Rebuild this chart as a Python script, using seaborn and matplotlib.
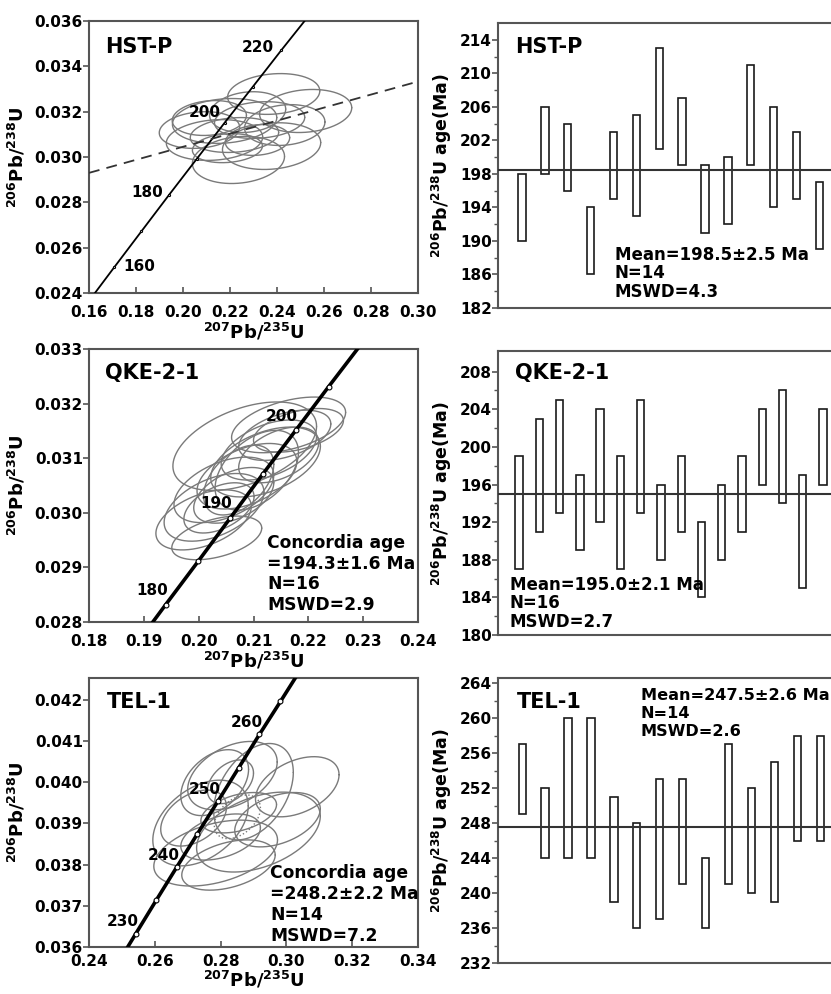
import numpy as np
import matplotlib
matplotlib.use("Agg")
import matplotlib.pyplot as plt
import seaborn as sns

# ---- concordia points (age in Ma, 207Pb/235U, 206Pb/238U) ----
hst_age = [150, 160, 170, 180, 190, 200, 210, 220, 230]
hst_c75 = [0.1592, 0.1707, 0.1823, 0.1940, 0.2058, 0.2177, 0.2298, 0.2419, 0.2542]
hst_c68 = [0.02354, 0.02513, 0.02672, 0.02832, 0.02991, 0.03151, 0.03311, 0.03472, 0.03632]
hst_lab = [160, 180, 200, 220]

qke_age = [175, 180, 185, 190, 195, 200, 205, 210]
qke_c75 = [0.1881, 0.1940, 0.1999, 0.2058, 0.2117, 0.2177, 0.2237, 0.2298]
qke_c68 = [0.02752, 0.02832, 0.02911, 0.02991, 0.03071, 0.03151, 0.03231, 0.03311]
qke_lab = [180, 190, 200]

tel_age = [225, 230, 235, 240, 245, 250, 255, 260, 265, 270]
tel_c75 = [0.2481, 0.2542, 0.2604, 0.2666, 0.2729, 0.2792, 0.2855, 0.2918, 0.2982, 0.3046]
tel_c68 = [0.03552, 0.03632, 0.03713, 0.03793, 0.03874, 0.03954, 0.04035, 0.04116, 0.04196, 0.04277]
tel_lab = [230, 240, 250, 260]

# discordia (dashed) line for HST-P
hst_dis_x = [0.16, 0.30]
hst_dis_y = [0.0293, 0.03333]

# ---- error ellipses: centre, half-widths, correlation ----
hst_x = [0.2386, 0.2522, 0.2236, 0.2377, 0.2134, 0.2177, 0.2326, 0.2275, 0.2070, 0.2219, 0.2433, 0.2112, 0.2317, 0.2189]
hst_y = [0.03278, 0.03203, 0.02987, 0.03048, 0.03075, 0.03159, 0.03163, 0.03198, 0.03119, 0.03097, 0.03141, 0.03172, 0.03075, 0.03039]
hst_sx = [0.0196, 0.0196, 0.0196, 0.0209, 0.0205, 0.0222, 0.0192, 0.0162, 0.0171, 0.0188, 0.0171, 0.0158, 0.0137, 0.0149]
hst_sy = [0.00090, 0.00095, 0.00104, 0.00103, 0.00090, 0.00099, 0.00081, 0.00090, 0.00081, 0.00077, 0.00090, 0.00077, 0.00068, 0.00064]
hst_rho = 0.15

qke_x = [0.2084, 0.2164, 0.2157, 0.2122, 0.2046, 0.2028, 0.2088, 0.2037, 0.2033, 0.2128, 0.2182, 0.2064, 0.2106, 0.2009, 0.2146, 0.2073]
qke_y = [0.03122, 0.03161, 0.03142, 0.03093, 0.03042, 0.03010, 0.03067, 0.03009, 0.02954, 0.03115, 0.03151, 0.03032, 0.03078, 0.02987, 0.03106, 0.03060]
qke_sx = [0.0131, 0.0104, 0.0084, 0.0100, 0.0091, 0.0091, 0.0091, 0.0064, 0.0082, 0.0087, 0.0082, 0.0073, 0.0076, 0.0087, 0.0073, 0.0064]
qke_sy = [0.00081, 0.00051, 0.00046, 0.00064, 0.00060, 0.00062, 0.00060, 0.00046, 0.00040, 0.00055, 0.00040, 0.00051, 0.00073, 0.00055, 0.00051, 0.00064]
qke_rho = 0.45

tel_x = [0.3033, 0.2782, 0.2836, 0.2739, 0.2785, 0.2824, 0.2915, 0.2900, 0.2800, 0.2855, 0.2973, 0.2718, 0.2830, 0.2851]
tel_y = [0.03989, 0.03999, 0.04016, 0.03901, 0.03828, 0.03799, 0.03879, 0.03977, 0.03867, 0.03926, 0.03909, 0.03913, 0.04001, 0.03916]
tel_sx = [0.0127, 0.0103, 0.0136, 0.0145, 0.0188, 0.0142, 0.0188, 0.0121, 0.0121, 0.0115, 0.0130, 0.0100, 0.0070, 0.0070]
tel_sy = [0.00073, 0.00080, 0.00083, 0.00104, 0.00080, 0.00061, 0.00097, 0.00117, 0.00056, 0.00049, 0.00066, 0.00068, 0.00053, 0.00053]
tel_rho = 0.4

# ---- 206Pb/238U ages (bar bottom / top, Ma) ----
hst_lo = [190, 198, 196, 186, 195, 193, 201, 199, 191, 192, 199, 194, 195, 189]
hst_hi = [198, 206, 204, 194, 203, 205, 213, 207, 199, 200, 211, 206, 203, 197]
hst_mean = 198.5

qke_lo = [187, 191, 193, 189, 192, 187, 193, 188, 191, 184, 188, 191, 196, 194, 185, 196]
qke_hi = [199, 203, 205, 197, 204, 199, 205, 196, 199, 192, 196, 199, 204, 206, 197, 204]
qke_mean = 195.0

tel_lo = [249, 244, 244, 244, 239, 236, 237, 241, 236, 241, 240, 239, 246, 246]
tel_hi = [257, 252, 260, 260, 251, 248, 253, 253, 244, 257, 252, 255, 258, 258]
tel_mean = 247.5

sns.set_style("ticks")
plt.rcParams['font.family'] = ['DejaVu Sans']
plt.rcParams['font.weight'] = 'bold'
plt.rcParams['mathtext.fontset'] = 'dejavusans'
plt.rcParams['text.color'] = 'black'
plt.rcParams['axes.labelcolor'] = 'black'
plt.rcParams['xtick.labelcolor'] = 'black'
plt.rcParams['ytick.labelcolor'] = 'black'

W, H = 831, 994
fig = plt.figure(figsize=(W / 100, H / 100), dpi=100)

def box(l, t, r, b):
    return [l / W, 1 - b / H, (r - l) / W, (b - t) / H]

def ftext(x, y, s, size, **kw):
    fig.text(x / W, 1 - y / H, s, fontsize=size, fontweight='bold', va='center', ha='left',
             color='black', **kw)

def style_axes(ax):
    for sp in ax.spines.values():
        sp.set_color('#555555')
        sp.set_linewidth(1.5)
        sp.set_visible(True)
    ax.tick_params(axis='y', direction='out', length=4, width=1.2, color='#555555',
                   labelsize=11, pad=0.5)
    for lab in ax.get_yticklabels() + ax.get_xticklabels():
        lab.set_fontweight('bold')

ylab_left = r'$^{206}\mathbf{Pb/}^{238}\mathbf{U}$'
xlab_left = r'$^{207}\mathbf{Pb/}^{235}\mathbf{U}$'
ylab_right = r'$^{206}\mathbf{Pb/}^{238}\mathbf{U\ age(Ma)}$'

t = np.linspace(0, 2 * np.pi, 200)

def concordia_panel(pos, age, c75, c68, labels, lab_off, ex, ey, esx, esy, rho,
                    xlim, ylim, xticks, yticks, lw, ms, dotted=None, xpad=1, tpad=8.5):
    ax = fig.add_axes(pos)
    for i in range(len(ex)):
        px = ex[i] + esx[i] * np.cos(t)
        py = ey[i] + esy[i] * (rho * np.cos(t) + np.sqrt(1 - rho ** 2) * np.sin(t))
        ls = ':' if dotted is not None and i in dotted else '-'
        ax.plot(px, py, color='#7a7a7a', lw=1.0, ls=ls, zorder=2)
    sns.lineplot(x=c75, y=c68, ax=ax, color='black', lw=lw, sort=False, estimator=None, zorder=3)
    ax.plot(c75, c68, 'o', ms=ms, mfc='white', mec='black', mew=0.8, zorder=4, ls='none')
    for a in labels:
        k = age.index(a)
        dx, dy = lab_off[a] if isinstance(lab_off, dict) else lab_off
        ax.annotate(str(a), (c75[k], c68[k]), xytext=(dx, dy), textcoords='offset pixels',
                    ha='center', va='center', fontsize=11, fontweight='bold', zorder=5)
    ax.set_xlim(*xlim)
    ax.set_ylim(*ylim)
    ax.set_xticks(xticks)
    ax.set_yticks(yticks)
    ax.set_xticklabels(['{:.2f}'.format(v) for v in xticks])
    ax.set_yticklabels(['{:.3f}'.format(v) for v in yticks])
    ax.set_xlabel(xlab_left, fontsize=13, labelpad=xpad)
    ax.set_ylabel(ylab_left, fontsize=13, labelpad=5)
    style_axes(ax)
    ax.tick_params(axis='x', direction='in', length=4, width=1.2, color='#555555', labelsize=11, pad=tpad)
    return ax

def age_panel(pos, lo, hi, mean, xlim, ylim, yticks, width):
    ax = fig.add_axes(pos)
    idx = np.arange(1, len(lo) + 1)
    ax.bar(idx, np.array(hi) - np.array(lo), bottom=lo, width=width, facecolor='white',
           edgecolor='#1a1a1a', linewidth=1.2, zorder=2)
    ax.axhline(mean, color='#333333', lw=1.5, zorder=3)
    ax.set_xlim(*xlim)
    ax.set_ylim(*ylim)
    ax.set_xticks([])
    ax.set_yticks(yticks)
    ax.set_yticks(np.arange(yticks[0], yticks[-1] + 1, 2), minor=True)
    ax.set_yticklabels([str(v) for v in yticks])
    ax.set_ylabel(ylab_right, fontsize=12.5, labelpad=4)
    style_axes(ax)
    ax.tick_params(axis='y', which='minor', direction='out', length=3, width=1.0, color='#555555')
    return ax

# ---- row 1: HST-P ----
ax1 = concordia_panel(box(89, 21, 418, 293), hst_age, hst_c75, hst_c68, hst_lab,
                      {160: (25, 1), 180: (-22, 3), 200: (-20, 10), 220: (-24, 3)},
                      hst_x, hst_y, hst_sx, hst_sy, hst_rho,
                      (0.16, 0.30), (0.024, 0.036), np.arange(0.16, 0.301, 0.02),
                      np.arange(0.024, 0.0361, 0.002), 1.3, 1.5)
sns.lineplot(x=hst_dis_x, y=hst_dis_y, ax=ax1, color='#333333', lw=1.3, ls=(0, (6, 4)), zorder=3)
ftext(105, 47, 'HST-P', 15)

age_panel(box(498, 23, 834, 308), hst_lo, hst_hi, hst_mean, (-0.053, 14.64), (182, 216),
          list(range(182, 215, 4)), 0.32)
ftext(515, 47, 'HST-P', 15)
for k, s in enumerate(['Mean=198.5±2.5 Ma', 'N=14', 'MSWD=4.3']):
    ftext(615, 255 + 18.5 * k, s, 12)

# ---- row 2: QKE-2-1 ----
concordia_panel(box(89, 349, 418, 622), qke_age, qke_c75, qke_c68, qke_lab, (-14, 14),
                qke_x, qke_y, qke_sx, qke_sy, qke_rho,
                (0.18, 0.24), (0.028, 0.033), np.arange(0.18, 0.2401, 0.01),
                np.arange(0.028, 0.03301, 0.001), 2.6, 3.5)
ftext(105, 373, 'QKE-2-1', 15)
for k, s in enumerate(['Concordia age', '=194.3±1.6 Ma', 'N=16', 'MSWD=2.9']):
    ftext(267, 543 + 20.7 * k, s, 12.3)

age_panel(box(498, 351, 834, 635), qke_lo, qke_hi, qke_mean, (-0.04, 16.54), (180, 210.2),
          list(range(180, 209, 4)), 0.36)
ftext(515, 373, 'QKE-2-1', 15)
for k, s in enumerate(['Mean=195.0±2.1 Ma', 'N=16', 'MSWD=2.7']):
    ftext(510, 585 + 18.5 * k, s, 12)

# ---- row 3: TEL-1 ----
concordia_panel(box(89, 678, 418, 947), tel_age, tel_c75, tel_c68, tel_lab, (-13, 12),
                tel_x, tel_y, tel_sx, tel_sy, tel_rho,
                (0.24, 0.34), (0.036, 0.04253), np.arange(0.24, 0.3401, 0.02),
                np.arange(0.036, 0.04201, 0.001), 2.6, 3.5, dotted=[13], xpad=0, tpad=5)
ftext(107, 702, 'TEL-1', 15)
for k, s in enumerate(['Concordia age', '=248.2±2.2 Ma', 'N=14', 'MSWD=7.2']):
    ftext(270, 873 + 21 * k, s, 12.3)

age_panel(box(498, 678, 834, 963), tel_lo, tel_hi, tel_mean, (-0.048, 14.58), (232, 264.6),
          list(range(232, 265, 4)), 0.31)
ftext(517, 702, 'TEL-1', 15)
for k, s in enumerate(['Mean=247.5±2.6 Ma', 'N=14', 'MSWD=2.6']):
    ftext(641, 696 + 18 * k, s, 11.6)

fig.savefig("out.png", dpi=100)
